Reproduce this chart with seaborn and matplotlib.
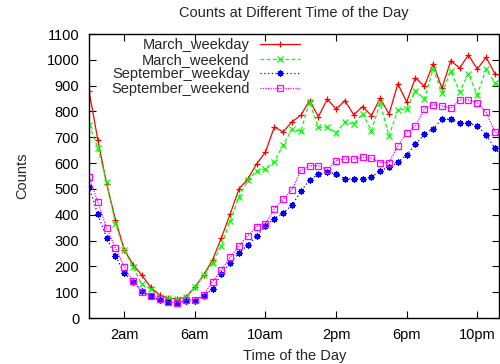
import numpy as np
import pandas as pd
import matplotlib
matplotlib.use("Agg")
import matplotlib.pyplot as plt
import seaborn as sns

# half-hour time grid (hours since midnight)
hours = np.arange(0, 24, 0.5)

march_weekday = [880, 690, 519, 380, 264, 207, 165, 119, 89, 77, 74, 81,
                 120, 167, 225, 310, 403, 500, 539, 597, 643, 740, 721, 760,
                 785, 842, 780, 848, 809, 842, 787, 819, 784, 851, 790, 907,
                 837, 931, 897, 985, 890, 997, 968, 1019, 964, 1010, 946, 935]
march_weekend = [748, 660, 526, 366, 262, 197, 130, 113, 83, 76, 74, 82,
                 120, 165, 214, 280, 377, 470, 535, 570, 578, 606, 670, 731,
                 723, 837, 738, 739, 718, 759, 751, 792, 726, 832, 705, 806,
                 810, 881, 848, 964, 873, 955, 877, 946, 864, 964, 912, 880]
september_weekday = [509, 401, 311, 240, 173, 141, 104, 84, 68, 61, 59, 65,
                     66, 87, 112, 171, 214, 253, 282, 318, 357, 385, 406, 437,
                     490, 535, 557, 565, 558, 539, 539, 539, 545, 571, 584, 603,
                     632, 673, 712, 733, 770, 770, 755, 755, 745, 709, 658, 615]
september_weekend = [548, 449, 348, 270, 199, 142, 102, 85, 72, 62, 60, 70,
                     70, 89, 141, 186, 235, 280, 318, 354, 365, 422, 460, 496,
                     572, 590, 590, 574, 610, 615, 615, 623, 619, 602, 602, 667,
                     718, 744, 809, 826, 822, 813, 845, 845, 834, 796, 722, 690]

series_names = ["March_weekday", "March_weekend", "September_weekday", "September_weekend"]
x_tick_pos = [2, 6, 10, 14, 18, 22]
x_tick_labels = ["2am", "6am", "10am", "2pm", "6pm", "10pm"]
y_ticks = list(range(0, 1101, 100))

sns.set_style("ticks")
plt.rcParams["font.family"] = ["Liberation Sans", "DejaVu Sans"]
plt.rcParams["font.size"] = 10.5

fig = plt.figure(figsize=(5.0, 3.64), dpi=100)
ax = fig.add_axes([89 / 500, 1 - 318 / 364, (499.5 - 89) / 500, (318 - 34) / 364])

styles = [
    dict(color="#ff0000", marker="+", linestyle="-", markersize=5, markeredgewidth=0.9),
    dict(color="#00ff00", marker="x", linestyle=(0, (3, 2)), markersize=4, markeredgewidth=0.9),
    dict(color="#0000ff", marker=(8, 2, 0), linestyle=(0, (1, 2)), markersize=4.5, markeredgewidth=0.9),
    dict(color="#ff00ff", marker="s", linestyle=(0, (1, 1)), markersize=4.3, markeredgewidth=0.9,
         markerfacecolor="none"),
]
all_vals = [march_weekday, march_weekend, september_weekday, september_weekend]

for name, vals, st in zip(series_names, all_vals, styles):
    df = pd.DataFrame({"hour": hours, "count": vals})
    sns.lineplot(data=df, x="hour", y="count", ax=ax, label=name, linewidth=0.9,
                 markeredgecolor=st["color"], **st)

ax.set_xlim(0, 23.26)
ax.set_ylim(0, 1100)
ax.set_xticks(x_tick_pos)
ax.set_xticklabels(x_tick_labels)
ax.set_yticks(y_ticks)
ax.tick_params(direction="in", length=5, width=0.8, top=True, right=True,
               labelsize=10.5, colors="black")
ax.tick_params(axis="x", pad=7)
ax.tick_params(axis="y", pad=7)
for sp in ax.spines.values():
    sp.set_visible(True)
    sp.set_linewidth(1.0)
    sp.set_color("black")

ax.set_title("Counts at Different Time of the Day", fontsize=10.5, pad=12)
ax.set_xlabel("Time of the Day", fontsize=10.5, labelpad=5)
ax.set_ylabel("Counts", fontsize=10.5, labelpad=12)

leg = ax.legend(loc="upper right", bbox_to_anchor=(300 / 500, 1 - 38 / 364),
                bbox_transform=fig.transFigure, frameon=False, markerfirst=False,
                handlelength=2.75, handletextpad=0.7, labelspacing=0.05,
                borderpad=0, borderaxespad=0, fontsize=10.5, numpoints=1)

fig.savefig("out.png", dpi=100)
